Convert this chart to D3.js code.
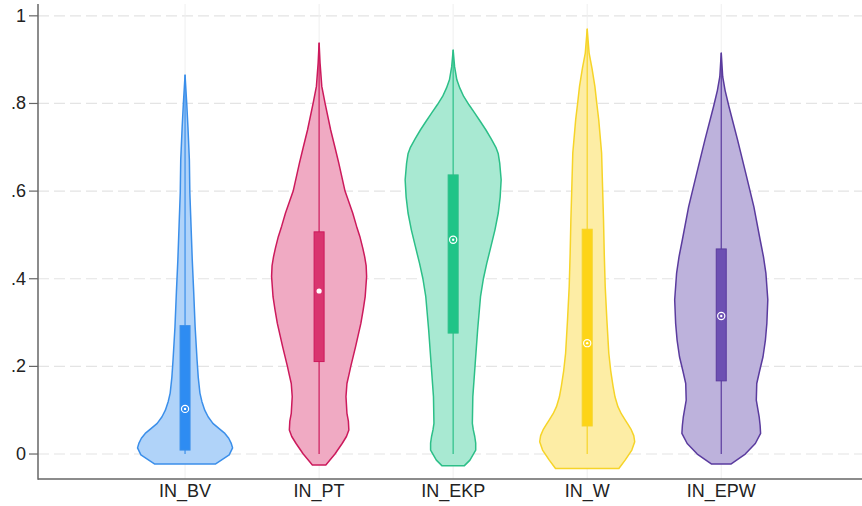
<!DOCTYPE html>
<html>
<head>
<meta charset="utf-8">
<script src="https://cdn.jsdelivr.net/npm/d3@7"></script>
<style>
  html, body { margin: 0; padding: 0; background: #ffffff; }
  svg { display: block; font-family: "Liberation Sans", Arial, sans-serif; }
</style>
</head>
<body>
<svg id="chart" width="862" height="506"></svg>
<script>
// ---------- data ----------
const categories = ["IN_BV", "IN_PT", "IN_EKP", "IN_W", "IN_EPW"];
const yTicks = [0, 0.2, 0.4, 0.6, 0.8, 1];
const yTickLabels = ["0", ".2", ".4", ".6", ".8", "1"];

// box statistics
const mins    = [0.0,   0.0,   0.0,   0.0,   0.0];
const q1s     = [0.009, 0.211, 0.276, 0.064, 0.167];
const medians = [0.103, 0.372, 0.489, 0.253, 0.315];
const q3s     = [0.293, 0.507, 0.637, 0.513, 0.468];
const maxs    = [0.865, 0.938, 0.922, 0.970, 0.915];

// violin density profiles: [value, relative density]
const densityBV = [[-0.023,0.63],[-0.002,0.92],[0.014,0.99],[0.025,0.96],[0.036,0.91],[0.047,0.83],[0.058,0.71],[0.07,0.58],
  [0.085,0.48],[0.10,0.41],[0.12,0.35],[0.139,0.31],[0.175,0.275],[0.215,0.25],[0.29,0.21],[0.37,0.18],[0.443,0.15],
  [0.52,0.125],[0.596,0.10],[0.671,0.09],[0.747,0.06],[0.80,0.035],[0.865,0]];
const densityPT = [[-0.025,0.14],[0.0,0.33],[0.024,0.48],[0.04,0.57],[0.055,0.62],[0.075,0.61],[0.093,0.58],[0.131,0.56],[0.161,0.58],
  [0.18,0.62],[0.2,0.66],[0.245,0.76],[0.298,0.87],[0.33,0.92],[0.359,0.96],[0.405,0.99],[0.43,0.98],[0.45,0.95],[0.47,0.91],[0.496,0.85],
  [0.52,0.78],[0.55,0.70],[0.60,0.54],[0.664,0.41],[0.70,0.33],[0.74,0.24],[0.80,0.125],[0.839,0.056],[0.892,0.02],[0.938,0]];
const densityEKP = [[-0.027,0.23],[-0.014,0.35],[0.009,0.47],[0.025,0.47],[0.04,0.45],[0.055,0.42],[0.07,0.40],[0.131,0.41],[0.207,0.46],
  [0.283,0.51],[0.359,0.57],[0.40,0.63],[0.435,0.70],[0.475,0.79],[0.511,0.87],[0.55,0.94],[0.587,0.98],[0.626,1.0],[0.664,0.97],[0.685,0.94],[0.70,0.89],
  [0.72,0.79],[0.74,0.68],[0.76,0.56],[0.778,0.45],[0.797,0.33],[0.816,0.22],[0.835,0.14],[0.854,0.077],[0.884,0.03],[0.922,0]];
const densityW = [[-0.033,0.66],[-0.014,0.79],[0.009,0.93],[0.028,0.99],[0.042,0.97],[0.055,0.92],[0.066,0.86],[0.078,0.79],[0.092,0.71],[0.108,0.64],
  [0.13,0.58],[0.154,0.54],[0.19,0.49],[0.23,0.45],[0.306,0.41],[0.382,0.375],[0.458,0.355],[0.534,0.34],[0.61,0.32],[0.687,0.30],
  [0.763,0.24],[0.80,0.20],[0.839,0.16],[0.88,0.10],[0.915,0.04],[0.97,0]];
const densityEPW = [[-0.023,0.20],[0.0,0.50],[0.024,0.71],[0.047,0.82],[0.065,0.81],[0.085,0.79],[0.123,0.73],[0.161,0.74],[0.19,0.80],
  [0.222,0.87],[0.26,0.92],[0.298,0.95],[0.352,0.97],[0.413,0.93],[0.45,0.88],[0.489,0.81],[0.564,0.68],[0.641,0.51],[0.717,0.34],
  [0.793,0.16],[0.83,0.08],[0.861,0.03],[0.915,0]];
const densities = [densityBV, densityPT, densityEKP, densityW, densityEPW];

// ---------- styles ----------
const strokeColors = ["#3b8fea", "#cc1a5c", "#2cbf88", "#f6d428", "#5a3b9e"];
const fillColors   = ["#b0d3f9", "#f0aac3", "#a8e9d2", "#fdeda5", "#bdb2dc"];
const boxColors    = ["#2e8cf2", "#d9346f", "#1fc487", "#fdd417", "#6c50b2"];
const medianStyle  = ["ring", "dot", "ring", "ring", "ring"];

// ---------- layout ----------
const svg = d3.select("#chart");
const plotLeft = 38, plotRight = 862, plotTop = 4, plotBottom = 479;

const y = d3.scaleLinear().domain([-0.057, 1.027]).range([plotBottom, plotTop]);
const x = d3.scaleLinear().domain([-0.097, 6.05]).range([plotLeft, plotRight]);
const w = d3.scaleLinear().domain([0, 1]).range([0, 48]);

// horizontal dashed gridlines
svg.append("g").selectAll("line").data(yTicks).join("line")
  .attr("x1", plotLeft).attr("x2", plotRight)
  .attr("y1", d => y(d)).attr("y2", d => y(d))
  .attr("stroke", "#e4e4e4").attr("stroke-width", 1.2)
  .attr("stroke-dasharray", "11,5");

// vertical faint gridlines at categories
svg.append("g").selectAll("line").data(categories).join("line")
  .attr("x1", (d, i) => x(i + 1)).attr("x2", (d, i) => x(i + 1))
  .attr("y1", plotTop).attr("y2", plotBottom)
  .attr("stroke", "#efefef").attr("stroke-width", 1);

// violins
const area = d3.area()
  .y(d => y(d[0]))
  .curve(d3.curveLinear);

categories.forEach((cat, i) => {
  const cx = x(i + 1);
  const g = svg.append("g");
  g.append("path")
    .datum(densities[i])
    .attr("d", area.x0(d => cx - w(d[1])).x1(d => cx + w(d[1])))
    .attr("fill", fillColors[i])
    .attr("stroke", strokeColors[i])
    .attr("stroke-width", 1.5)
    .attr("stroke-linejoin", "round");
  // whisker
  g.append("line")
    .attr("x1", cx).attr("x2", cx)
    .attr("y1", y(mins[i])).attr("y2", y(maxs[i]))
    .attr("stroke", strokeColors[i]).attr("stroke-width", 1.2);
  // box
  g.append("rect")
    .attr("x", cx - 5).attr("width", 10)
    .attr("y", y(q3s[i])).attr("height", y(q1s[i]) - y(q3s[i]))
    .attr("fill", boxColors[i])
    .attr("stroke", strokeColors[i]).attr("stroke-width", 1);
  // median marker
  if (medianStyle[i] === "ring") {
    g.append("circle").attr("cx", cx).attr("cy", y(medians[i])).attr("r", 3.6)
      .attr("fill", "none").attr("stroke", "#ffffff").attr("stroke-width", 1.2);
    g.append("circle").attr("cx", cx).attr("cy", y(medians[i])).attr("r", 1.2)
      .attr("fill", "#ffffff");
  } else {
    g.append("circle").attr("cx", cx).attr("cy", y(medians[i])).attr("r", 2.6)
      .attr("fill", "#ffffff");
  }
});

// axes
const axisColor = "#666666";
svg.append("line").attr("x1", plotLeft).attr("x2", plotLeft)
  .attr("y1", plotTop).attr("y2", plotBottom + 0.75)
  .attr("stroke", axisColor).attr("stroke-width", 1.5);
svg.append("line").attr("x1", plotLeft).attr("x2", plotRight)
  .attr("y1", plotBottom).attr("y2", plotBottom)
  .attr("stroke", axisColor).attr("stroke-width", 1.5);

// y ticks
svg.append("g").selectAll("line").data(yTicks).join("line")
  .attr("x1", plotLeft - 9).attr("x2", plotLeft)
  .attr("y1", d => y(d)).attr("y2", d => y(d))
  .attr("stroke", axisColor).attr("stroke-width", 1.2);
svg.append("g").selectAll("text").data(yTicks).join("text")
  .attr("x", plotLeft - 12).attr("y", d => y(d))
  .attr("text-anchor", "end").attr("dominant-baseline", "central")
  .attr("font-size", 18).attr("fill", "#222")
  .text((d, i) => yTickLabels[i]);

// x labels
svg.append("g").selectAll("text").data(categories).join("text")
  .attr("x", (d, i) => x(i + 1)).attr("y", 497)
  .attr("text-anchor", "middle")
  .attr("font-size", 18).attr("fill", "#222")
  .text(d => d);
</script>
</body>
</html>
